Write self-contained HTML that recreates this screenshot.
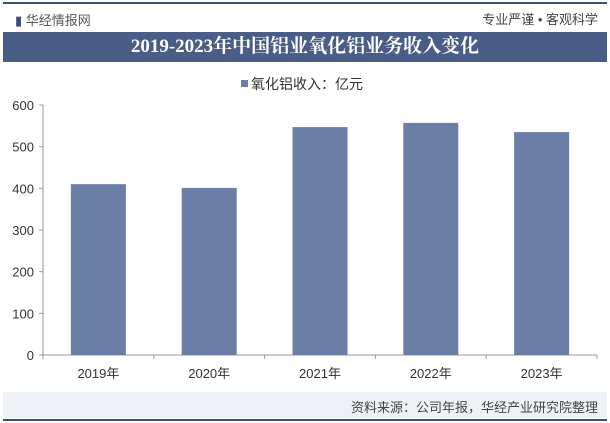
<!DOCTYPE html>
<html><head><meta charset="utf-8"><style>
body{margin:0;width:610px;height:423px;background:#fff;font-family:"Liberation Sans","Noto Sans CJK SC",sans-serif;overflow:hidden;position:relative}
.abs{position:absolute}
</style></head><body>
<div class="abs" style="left:3px;top:2px;width:604px;height:2px;background:#3d4f74"></div>
<div class="abs" style="left:15px;top:10px;font-size:13px;color:#3d4f74">▮<span style="color:#555;font-size:13px"> 华经情报网</span></div>
<div class="abs" style="right:12px;top:9px;font-size:13px;color:#444">专业严谨 • 客观科学</div>
<div class="abs" style="left:3px;top:32px;width:604px;height:30px;background:#4a5d86;color:#fff;font-size:19px;font-weight:bold;text-align:center;line-height:30px;font-family:'Liberation Serif','Noto Serif CJK SC',serif">2019-2023年中国铝业氧化铝业务收入变化</div>
<div class="abs" style="left:241px;top:74px;font-size:14px;color:#333"><span style="display:inline-block;width:7px;height:7px;background:#6a7ea6;margin-right:3px;vertical-align:2px"></span>氧化铝收入：亿元</div>
<svg class="abs" style="left:0;top:0" width="610" height="423">
<g id="g"></g></svg>
<div class="abs" style="left:3px;top:392px;width:604px;height:26px;background:#eef1f6"></div>
<div class="abs" style="right:12px;top:397px;font-size:13px;color:#444">资料来源：公司年报，华经产业研究院整理</div>
<div class="abs" style="left:3px;top:419px;width:604px;height:2px;background:#3d4f74"></div>
<script>
const categories=["2019年","2020年","2021年","2022年","2023年"];
const values=[410,401,547,557,535];
const ticks=[0,100,200,300,400,500,600];
const ns="http://www.w3.org/2000/svg",g=document.getElementById('g');
const x0=43,x1=597,y0=355,yMax=600,h=250;
const y=v=>y0-v/yMax*h;
const bw=(x1-x0)/categories.length;
function el(t,a,txt){const e=document.createElementNS(ns,t);for(const k in a)e.setAttribute(k,a[k]);if(txt!=null)e.textContent=txt;g.appendChild(e);return e;}
ticks.forEach(t=>{const e=el('text',{x:34,y:y(t)+5,'text-anchor':'end','font-size':13,fill:'#333'},t);


el('line',{x1:x0-4,x2:x0,y1:y(t),y2:y(t),stroke:'#999'});});
const ya=el('line',{x1:x0,x2:x0,y1:y(600),y2:y0,stroke:'#999'});


const xa=el('line',{x1:x0,x2:x1,y1:y0,y2:y0,stroke:'#999'});


categories.forEach((c,i)=>{const cx=x0+bw*(i+0.5);
const r=el('rect',{x:cx-27.5,y:y(values[i]),width:55,height:y0-y(values[i]),fill:'#6a7ea6'});


el('line',{x1:x0+bw*(i+1),x2:x0+bw*(i+1),y1:y0,y2:y0+4,stroke:'#999'});
const t=el('text',{x:cx,y:378,'text-anchor':'middle','font-size':13,fill:'#333'},c);

});
el('line',{x1:x0,x2:x0,y1:y0,y2:y0+4,stroke:'#999'});
</script>
</body></html>
